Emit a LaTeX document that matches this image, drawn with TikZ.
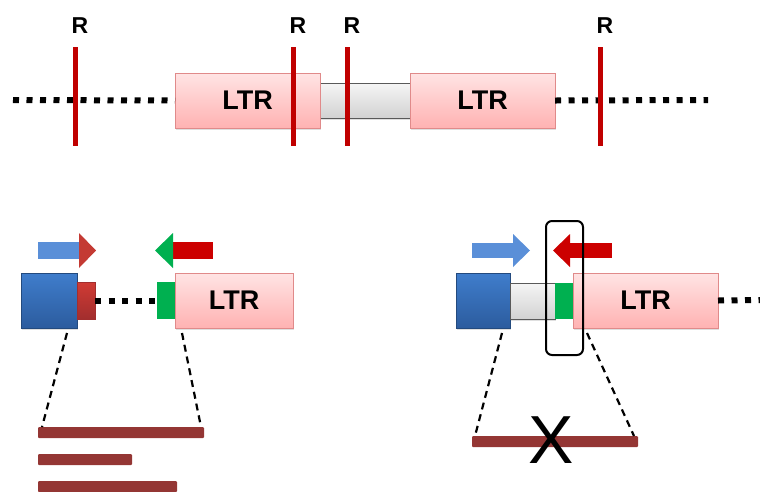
\documentclass[tikz,border=0pt]{standalone}
\usepackage{fontspec}
\setmainfont{Liberation Sans}
\usetikzlibrary{shadows}
\definecolor{ltrtop}{HTML}{FFE4E4}
\definecolor{ltrbot}{HTML}{FFB2B2}
\definecolor{ltredge}{HTML}{E08A8A}
\definecolor{cutred}{HTML}{C00000}
\definecolor{bluetop}{HTML}{3F7DCC}
\definecolor{bluebot}{HTML}{2C5C9E}
\definecolor{arrowblue}{HTML}{5A8FD8}
\definecolor{headred}{HTML}{C43A33}
\definecolor{boxred}{HTML}{D03B34}
\definecolor{boxredbot}{HTML}{A22E2E}
\definecolor{barred}{HTML}{943634}
\definecolor{greenbox}{HTML}{00B050}
\definecolor{primred}{HTML}{CC0000}
\begin{document}
\begin{tikzpicture}[x=1pt,y=-1pt,
  shad/.style={drop shadow={opacity=0.25,shadow xshift=1pt,shadow yshift=-1.5pt}},
  box/.style={inner sep=0pt,anchor=north west,outer sep=0pt},
  ltrbox/.style={box,draw=ltredge,line width=0.8pt,top color=ltrtop,bottom color=ltrbot,
    font=\fontsize{27}{27}\selectfont\bfseries,shad},
  graybox/.style={box,draw=gray!70!black,line width=0.8pt,top color=gray!8,bottom color=gray!35,shad},
  bluebox/.style={box,draw=bluebot!80!black,line width=0.5pt,top color=bluetop,bottom color=bluebot,shad},
  redbox/.style={box,draw=boxredbot,line width=0.5pt,top color=boxred,bottom color=boxredbot},
  greenbx/.style={box,fill=greenbox},
  barbox/.style={box,fill=barred,rounded corners=1pt},
  dotline/.style={line width=6pt,dash pattern=on 6pt off 7.5pt},
  cutline/.style={cutred,line width=5pt},
  rlabel/.style={font=\fontsize{23}{23}\selectfont\bfseries,inner sep=0pt},
  zoomline/.style={line width=2.2pt,dash pattern=on 7pt off 5pt},
]
\useasboundingbox (0,0) rectangle (760,491);

% ---------------- top row ----------------
\coordinate (dl0) at (13,100);
\coordinate (dr0) at (708,100);
\node[graybox,minimum width=90pt,minimum height=35pt] (gtop) at (320,83) {};
\node[ltrbox,minimum width=145pt,minimum height=55pt] (ltra) at (175,73) {LTR};
\node[ltrbox,minimum width=145pt,minimum height=55pt] (ltrb) at (410,73) {LTR};
\draw[dotline] (dl0) -- (ltra.west);
\draw[dotline] (ltrb.east) -- (dr0);

\foreach \i/\x in {1/75,2/293,3/347,4/600}{
  \node[rlabel] (R\i) at (\x+5,26) {R};
  \coordinate (ct\i) at (\x,47);
  \coordinate (cb\i) at (\x,146);
  \draw[cutline] (ct\i) -- (cb\i);
}

% ---------------- bottom left ----------------
\node[bluebox,minimum width=56pt,minimum height=55pt] (bsqL) at (21,273) {};
\node[redbox,minimum width=18pt,minimum height=37pt] (rbox) at (77,282) {};
\node[greenbx,minimum width=18pt,minimum height=37pt] (gbxL) at (157,282) {};
\node[ltrbox,minimum width=118pt,minimum height=55pt] (ltrL) at (175,273) {LTR};
\draw[dotline] (rbox.east) -- (gbxL.west);

% primer arrows left
\fill[arrowblue] (38,242) rectangle (80,259);
\fill[headred] (79,233) -- (96,250.5) -- (79,268) -- cycle;
\fill[primred] (172,242) rectangle (213,259);
\fill[greenbox] (173,233) -- (155,250.5) -- (173,268) -- cycle;

% bars left
\node[barbox,minimum width=166pt,minimum height=11pt] (bar1) at (38,427) {};
\node[barbox,minimum width=94pt,minimum height=11pt] (bar2) at (38,454) {};
\node[barbox,minimum width=139pt,minimum height=11pt] (bar3) at (38,481) {};
\coordinate (zl1) at (67,333);
\coordinate (zl2) at (182,333);
\coordinate (zl1b) at (42,427);
\coordinate (zl2b) at (201,427);
\draw[zoomline] (zl1) -- (zl1b);
\draw[zoomline] (zl2) -- (zl2b);

% ---------------- bottom right ----------------
\node[bluebox,minimum width=54pt,minimum height=55pt] (bsqR) at (456,273) {};
\node[graybox,minimum width=45pt,minimum height=36pt] (gR) at (510,283) {};
\node[greenbx,minimum width=18pt,minimum height=36pt] (gbxR) at (555,283) {};
\node[ltrbox,minimum width=145pt,minimum height=55pt] (ltrR) at (573,273) {LTR};
\coordinate (drR) at (762,300);
\draw[dotline] (ltrR.east) -- (drR);

% primer arrows right
\fill[arrowblue] (472,243) rectangle (514,258);
\fill[arrowblue] (513,234) -- (530,250.5) -- (513,267) -- cycle;
\fill[primred] (569,243) rectangle (612,258);
\fill[primred] (570,234) -- (553,250.5) -- (570,267) -- cycle;

% frame
\node[box,draw=black,line width=2pt,rounded corners=6pt,minimum width=37pt,minimum height=134pt] (frame) at (546,221) {};

% bar right and X
\node[barbox,minimum width=166pt,minimum height=11pt] (barR) at (472,436) {};
\coordinate (zr1) at (502,333);
\coordinate (zr2) at (587,333);
\coordinate (zr1b) at (475,436);
\coordinate (zr2b) at (634,436);
\draw[zoomline] (zr1) -- (zr1b);
\draw[zoomline] (zr2) -- (zr2b);
\node[inner sep=0pt,font=\fontsize{68}{68}\selectfont] (xmark) at (551,440) {X};
\end{tikzpicture}
\end{document}
